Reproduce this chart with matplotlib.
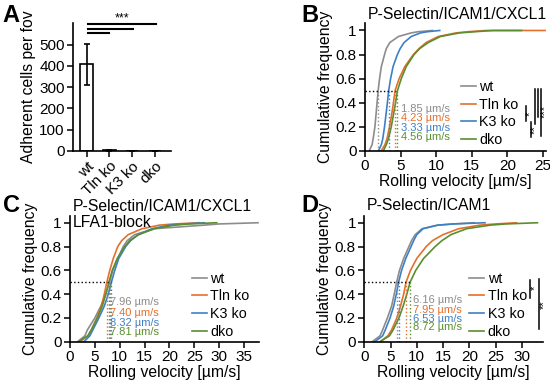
import matplotlib
matplotlib.use("Agg")
import matplotlib.pyplot as plt

plt.rcParams['font.family'] = ['Liberation Sans', 'DejaVu Sans']
plt.rcParams['font.size'] = 11
plt.rcParams['axes.linewidth'] = 1.2
plt.rcParams['xtick.major.width'] = 1.1
plt.rcParams['ytick.major.width'] = 1.1
plt.rcParams['xtick.major.size'] = 4
plt.rcParams['ytick.major.size'] = 4

# ---- data ----
genotypes = ['wt', 'Tln ko', 'K3 ko', 'dko']
colors = ['#8c8c8c', '#e3702d', '#3d80c4', '#5b8e2f']

# panel A: adherent cells per fov
adherent_mean = [410, 4, 1, 1]
adherent_err_low = [100, 2, 0, 0]
adherent_err_high = [95, 2, 0, 0]

# cumulative frequency levels shared by all CDF curves (last point = tail end)
cum_levels = [0, .05, .1, .2, .3, .4, .5, .6, .7, .8, .85, .9, .95, .98, .99, 1, 1]

# panel B: P-Selectin/ICAM1/CXCL1, velocities (um/s) at the levels above
b_vel = [
    [0.6, 1.0, 1.15, 1.4, 1.55, 1.7, 1.85, 2.05, 2.3, 2.75, 3.0, 3.5, 4.7, 6.5, 7.5, 9.5, 9.5],
    [2.3, 2.8, 3.1, 3.45, 3.75, 4.0, 4.23, 4.8, 5.6, 6.8, 7.6, 8.6, 10.3, 12.8, 14.5, 17, 25.3],
    [1.9, 2.3, 2.5, 2.75, 2.95, 3.15, 3.33, 3.6, 3.95, 4.55, 4.95, 5.5, 6.5, 7.8, 8.8, 10.5, 10.5],
    [2.6, 3.0, 3.3, 3.7, 4.0, 4.3, 4.56, 5.1, 5.8, 6.9, 7.7, 8.9, 10.6, 13.3, 15.5, 18, 22],
]
b_median = [1.85, 4.23, 3.33, 4.56]

# panel C: P-Selectin/ICAM1/CXCL1 + LFA1-block
c_vel = [
    [1.5, 3.0, 3.5, 5.0, 6.2, 7.2, 7.96, 8.6, 9.6, 10.7, 11.5, 13.0, 17, 27, 30, 37.8, 37.8],
    [2.0, 3.6, 4.3, 5.4, 6.3, 6.9, 7.40, 8.0, 8.7, 9.6, 10.4, 11.7, 14.5, 18, 21, 26, 26],
    [2.8, 4.0, 4.6, 5.8, 6.9, 7.7, 8.32, 9.0, 9.8, 11.2, 12.2, 13.7, 16.5, 20, 23, 27, 27],
    [1.7, 3.6, 4.3, 5.5, 6.5, 7.2, 7.81, 8.5, 9.5, 11.0, 12.0, 13.8, 17, 21, 24, 29.5, 29.5],
]
c_median = [7.96, 7.40, 8.32, 7.81]

# panel D: P-Selectin/ICAM1
d_vel = [
    [1.5, 3.0, 3.5, 4.4, 5.2, 5.7, 6.16, 6.7, 7.5, 8.5, 9.0, 9.7, 11.0, 14, 17, 21, 21],
    [3.0, 4.5, 5.2, 6.2, 6.9, 7.5, 7.95, 8.8, 10.0, 11.8, 13.0, 15.0, 18.0, 22, 25, 29, 29],
    [2.0, 3.5, 4.0, 4.9, 5.6, 6.1, 6.53, 7.1, 7.9, 8.9, 9.4, 10.0, 11.2, 14, 17, 23, 23],
    [3.0, 4.8, 5.5, 6.6, 7.4, 8.1, 8.72, 9.8, 11.3, 13.5, 14.8, 16.5, 19.5, 24, 27, 33, 33],
]
d_median = [6.16, 7.95, 6.53, 8.72]


def cdf_panel(ax, vel, medians, xmax, xticks, label_x, label_ys, legend_x):
    for v, c, name in zip(vel, colors, genotypes):
        ax.plot(v, cum_levels, color=c, lw=1.2, label=name)
    # median guide lines
    ax.plot([0, max(medians)], [0.5, 0.5], ls=':', color='black', lw=1)
    for m, c in zip(medians, colors):
        ax.plot([m, m], [0, 0.5], ls=':', color=c, lw=1)
    for m, c, y in zip(medians, colors, label_ys):
        ax.text(label_x, y, f'{m:.2f} µm/s', color=c, fontsize=8, ha='left', va='center')
    ax.set_xlim(0, xmax)
    ax.set_ylim(0, 1.06)
    ax.set_xticks(xticks)
    ax.set_yticks([0, 0.2, 0.4, 0.6, 0.8, 1])
    ax.set_yticklabels(['0', '0.2', '0.4', '0.6', '0.8', '1'])
    ax.set_xlabel('Rolling velocity [µm/s]', labelpad=1, fontsize=11.3)
    ax.set_ylabel('Cumulative frequency', labelpad=2, fontsize=11.3)
    ax.spines['top'].set_visible(False)
    ax.spines['right'].set_visible(False)
    ax.tick_params(pad=2)
    ax.legend(loc='upper left', bbox_to_anchor=(legend_x, 0.555), frameon=False,
              fontsize=10.3, handlelength=1.05, handletextpad=0.25, labelspacing=0.26,
              borderpad=0, borderaxespad=0)


fig = plt.figure(figsize=(5.5, 3.81), dpi=100)

# ---- A ----
axA = fig.add_axes([0.1327, 0.6037, 0.178, 0.335])
xpos = list(range(len(genotypes)))
axA.bar(xpos, adherent_mean, width=0.55, color='white', edgecolor='black', linewidth=1.2,
        yerr=[adherent_err_low, adherent_err_high], capsize=2.5,
        error_kw=dict(elinewidth=1.2, capthick=1.2))
axA.set_xlim(-0.6, 3.7)
axA.set_ylim(0, 600)
axA.set_yticks([0, 100, 200, 300, 400, 500])
axA.set_xticks(xpos)
axA.set_xticklabels(genotypes, rotation=45, ha='right', rotation_mode='anchor')
axA.set_ylabel('Adherent cells per fov', labelpad=2, fontsize=11.3)
axA.spines['top'].set_visible(False)
axA.spines['right'].set_visible(False)
axA.tick_params(pad=2)
for xe, ye in [(1.0, 554), (2.05, 575), (3.05, 597)]:
    axA.plot([0.05, xe], [ye, ye], color='black', lw=1.5, clip_on=False)
axA.text(1.55, 593, '***', ha='center', va='bottom', fontsize=9)

# ---- B ----
axB = fig.add_axes([0.6636, 0.6045, 0.3300, 0.3344])
cdf_panel(axB, b_vel, b_median, 25.5, [0, 5, 10, 15, 20, 25], 5.05,
          [0.345, 0.27, 0.19, 0.117], 0.528)
axB.text(0.015, 1.065, 'P-Selectin/ICAM1/CXCL1', transform=axB.transAxes,
         ha='left', va='center', fontsize=11.3)
sig_b = [(22.6, 0.37, 0.25), (23.3, 0.24, 0.11), (23.9, 0.51, 0.22),
         (24.35, 0.51, 0.28), (24.8, 0.51, 0.12)]
for xs, y0, y1 in sig_b:
    axB.plot([xs, xs], [y0, y1], color='black', lw=1.1, clip_on=False)
axB.text(23.1, 0.31, '*', rotation=90, ha='center', va='center', fontsize=8)
axB.text(23.8, 0.175, '**', rotation=90, ha='center', va='center', fontsize=8)
axB.text(25.25, 0.33, '***', rotation=90, ha='center', va='center', fontsize=8)

# ---- C ----
axC = fig.add_axes([0.1273, 0.1031, 0.3436, 0.331])
cdf_panel(axC, c_vel, c_median, 38, [0, 5, 10, 15, 20, 25, 30, 35], 8.05,
          [0.33, 0.24, 0.16, 0.085], 0.644)
axC.text(0.015, 1.076, 'P-Selectin/ICAM1/CXCL1', transform=axC.transAxes,
         ha='left', va='center', fontsize=11.3)
axC.text(0.015, 0.945, 'LFA1-block', transform=axC.transAxes,
         ha='left', va='center', fontsize=11.3)

# ---- D ----
axD = fig.add_axes([0.6624, 0.1031, 0.3244, 0.331])
cdf_panel(axD, d_vel, d_median, 34, [0, 5, 10, 15, 20, 25, 30], 9.3,
          [0.35, 0.27, 0.195, 0.12], 0.587)
axD.text(0.015, 1.084, 'P-Selectin/ICAM1', transform=axD.transAxes,
         ha='left', va='center', fontsize=11.3)
axD.plot([31.6, 31.6], [0.52, 0.37], color='black', lw=1.1, clip_on=False)
axD.plot([33.35, 33.35], [0.53, 0.11], color='black', lw=1.1, clip_on=False)
axD.text(32.45, 0.45, '*', rotation=90, ha='center', va='center', fontsize=8)
axD.text(34.2, 0.31, '**', rotation=90, ha='center', va='center', fontsize=8)

# panel letters
for lab, x, y in [('A', 0.005, 0.93), ('B', 0.548, 0.93), ('C', 0.005, 0.43), ('D', 0.548, 0.43)]:
    fig.text(x, y, lab, fontsize=17, fontweight='bold', ha='left', va='bottom')

fig.savefig('out.png', dpi=100)
